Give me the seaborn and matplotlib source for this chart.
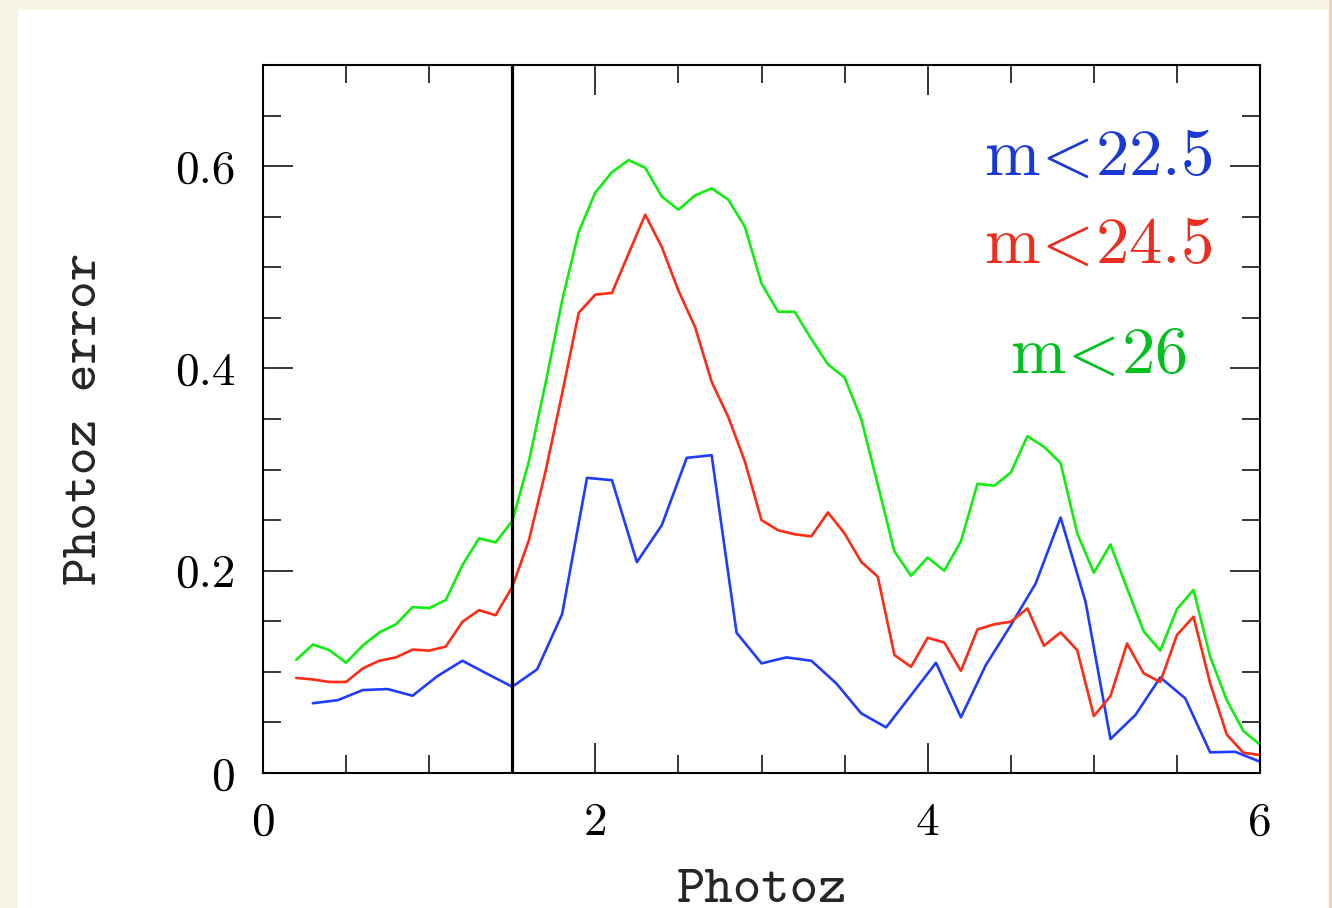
import numpy as np
import pandas as pd
import matplotlib
matplotlib.use("Agg")
import matplotlib.pyplot as plt
from matplotlib.patches import Rectangle
from matplotlib.ticker import MultipleLocator
import seaborn as sns

# ---- data ----
z_fine = [0.2, 0.3, 0.4, 0.5, 0.6, 0.7, 0.8, 0.9, 1.0, 1.1,
          1.2, 1.3, 1.4, 1.5, 1.6, 1.7, 1.8, 1.9, 2.0, 2.1,
          2.2, 2.3, 2.4, 2.5, 2.6, 2.7, 2.8, 2.9, 3.0, 3.1,
          3.2, 3.3, 3.4, 3.5, 3.6, 3.7, 3.8, 3.9, 4.0, 4.1,
          4.2, 4.3, 4.4, 4.5, 4.6, 4.7, 4.8, 4.9, 5.0, 5.1,
          5.2, 5.3, 5.4, 5.5, 5.6, 5.7, 5.8, 5.9, 6.0]

err_m26 = [0.112, 0.127, 0.1215, 0.109, 0.126, 0.139, 0.147, 0.164, 0.163, 0.171,
           0.2055, 0.232, 0.228, 0.249, 0.308, 0.385, 0.467, 0.535, 0.574, 0.594,
           0.606, 0.5985, 0.570, 0.557, 0.571, 0.578, 0.567, 0.540, 0.484, 0.456,
           0.456, 0.429, 0.404, 0.391, 0.350, 0.285, 0.219, 0.195, 0.213, 0.200,
           0.229, 0.286, 0.284, 0.297, 0.333, 0.3225, 0.3065, 0.237, 0.198, 0.226,
           0.1825, 0.140, 0.121, 0.162, 0.181, 0.115, 0.072, 0.0415, 0.028]

err_m245 = [0.094, 0.0925, 0.090, 0.090, 0.1034, 0.111, 0.1143, 0.122, 0.121, 0.125,
            0.1495, 0.161, 0.156, 0.184, 0.230, 0.298, 0.375, 0.455, 0.473, 0.4746,
            0.5135, 0.552, 0.520, 0.477, 0.441, 0.3867, 0.352, 0.308, 0.250, 0.240,
            0.236, 0.234, 0.2576, 0.2368, 0.2088, 0.194, 0.1166, 0.105, 0.1337, 0.129,
            0.101, 0.142, 0.147, 0.1495, 0.1627, 0.1258, 0.139, 0.1215, 0.0563, 0.076,
            0.128, 0.0985, 0.090, 0.1364, 0.1545, 0.0886, 0.038, 0.020, 0.0178]

z_coarse = [0.3, 0.45, 0.6, 0.75, 0.9, 1.05, 1.2, 1.35, 1.5, 1.65,
            1.8, 1.95, 2.1, 2.25, 2.4, 2.55, 2.7, 2.85, 3.0, 3.15,
            3.3, 3.45, 3.6, 3.75, 3.9, 4.05, 4.2, 4.35, 4.5, 4.65,
            4.8, 4.95, 5.1, 5.25, 5.4, 5.55, 5.7, 5.85, 6.0]

err_m225 = [0.069, 0.072, 0.082, 0.083, 0.0764, 0.0958, 0.111, 0.098, 0.0853, 0.1025,
            0.157, 0.2918, 0.2895, 0.2085, 0.245, 0.3116, 0.3142, 0.1387, 0.1084, 0.1143,
            0.111, 0.0886, 0.059, 0.0451, 0.077, 0.109, 0.055, 0.1067, 0.146, 0.1874,
            0.2526, 0.1693, 0.0336, 0.0573, 0.0945, 0.0738, 0.0204, 0.021, 0.0112]

z_cut = 1.5
labels = ["m<22.5", "m<24.5", "m<26"]
x_ticks = [0, 2, 4, 6]
x_ticklabels = ["0", "2", "4", "6"]
y_ticks = [0, 0.2, 0.4, 0.6]
y_ticklabels = ["0", "0.2", "0.4", "0.6"]

# ---- style ----
sns.set_style("ticks")
plt.rcParams["font.family"] = ["cmr10", "DejaVu Serif"]
plt.rcParams["mathtext.fontset"] = "cm"
plt.rcParams["axes.unicode_minus"] = False

line_cols = {"m<22.5": "#1f3cff", "m<24.5": "#ff2b14", "m<26": "#10ee10"}
text_cols = {"m<22.5": "#1a38d6", "m<24.5": "#ec2e1e", "m<26": "#00c020"}

df = pd.concat([
    pd.DataFrame({"z": z_coarse, "err": err_m225, "cut": labels[0]}),
    pd.DataFrame({"z": z_fine, "err": err_m245, "cut": labels[1]}),
    pd.DataFrame({"z": z_fine, "err": err_m26, "cut": labels[2]}),
])

fig = plt.figure(figsize=(13.32, 9.08), dpi=100)
fig.patch.set_facecolor("#f8f5e4")
# white page with a cream margin, drawn behind the axes
fig.patches.append(Rectangle((18 / 1332, 0), 1310 / 1332, 898 / 908,
                             transform=fig.transFigure, facecolor="white",
                             edgecolor="none", zorder=-10))
fig.patches.append(Rectangle((1329 / 1332, 0), 3 / 1332, 1,
                             transform=fig.transFigure, facecolor="#e6dbb4",
                             edgecolor="none", zorder=-10))

ax = fig.add_axes([263 / 1332, 1 - 773 / 908, 997 / 1332, 708 / 908])
ax.set_facecolor("none")

sns.lineplot(data=df, x="z", y="err", hue="cut", palette=line_cols,
             lw=1.9, sort=False, estimator=None, legend=False, ax=ax)
ax.axvline(z_cut, color="black", lw=2.3)

ax.set_xlim(0, 6)
ax.set_ylim(0, 0.7)
ax.set_xticks(x_ticks)
ax.set_xticklabels(x_ticklabels)
ax.set_yticks(y_ticks)
ax.set_yticklabels(y_ticklabels)
ax.xaxis.set_minor_locator(MultipleLocator(0.5))
ax.yaxis.set_minor_locator(MultipleLocator(0.05))
ax.tick_params(which="both", direction="in", top=True, right=True,
               width=1.1, colors="black", labelsize=34)
ax.tick_params(which="major", length=21.5)
ax.tick_params(which="minor", length=13)
ax.tick_params(axis="x", pad=21)
ax.tick_params(axis="y", pad=20)
for sp in ax.spines.values():
    sp.set_linewidth(1.5)
    sp.set_color("black")

ax.set_xlabel("Photoz", family="cmtt10", fontsize=39)
ax.set_ylabel("Photoz error", family="cmtt10", fontsize=38)
ax.xaxis.set_label_coords(0.5, -0.136)
ax.yaxis.set_label_coords(-0.155, 0.5)

# labels for the magnitude cuts (tight spacing around "<")
for lab, ty in zip(labels, [0.591, 0.504, 0.395]):
    num = lab.split("<")[1]
    ax.text(5.025, ty, r"$\mathrm{m}\!<\!" + num + "$", color=text_cols[lab],
            fontsize=48, ha="center", va="baseline")

fig.savefig("out.png", dpi=100, facecolor=fig.get_facecolor())
